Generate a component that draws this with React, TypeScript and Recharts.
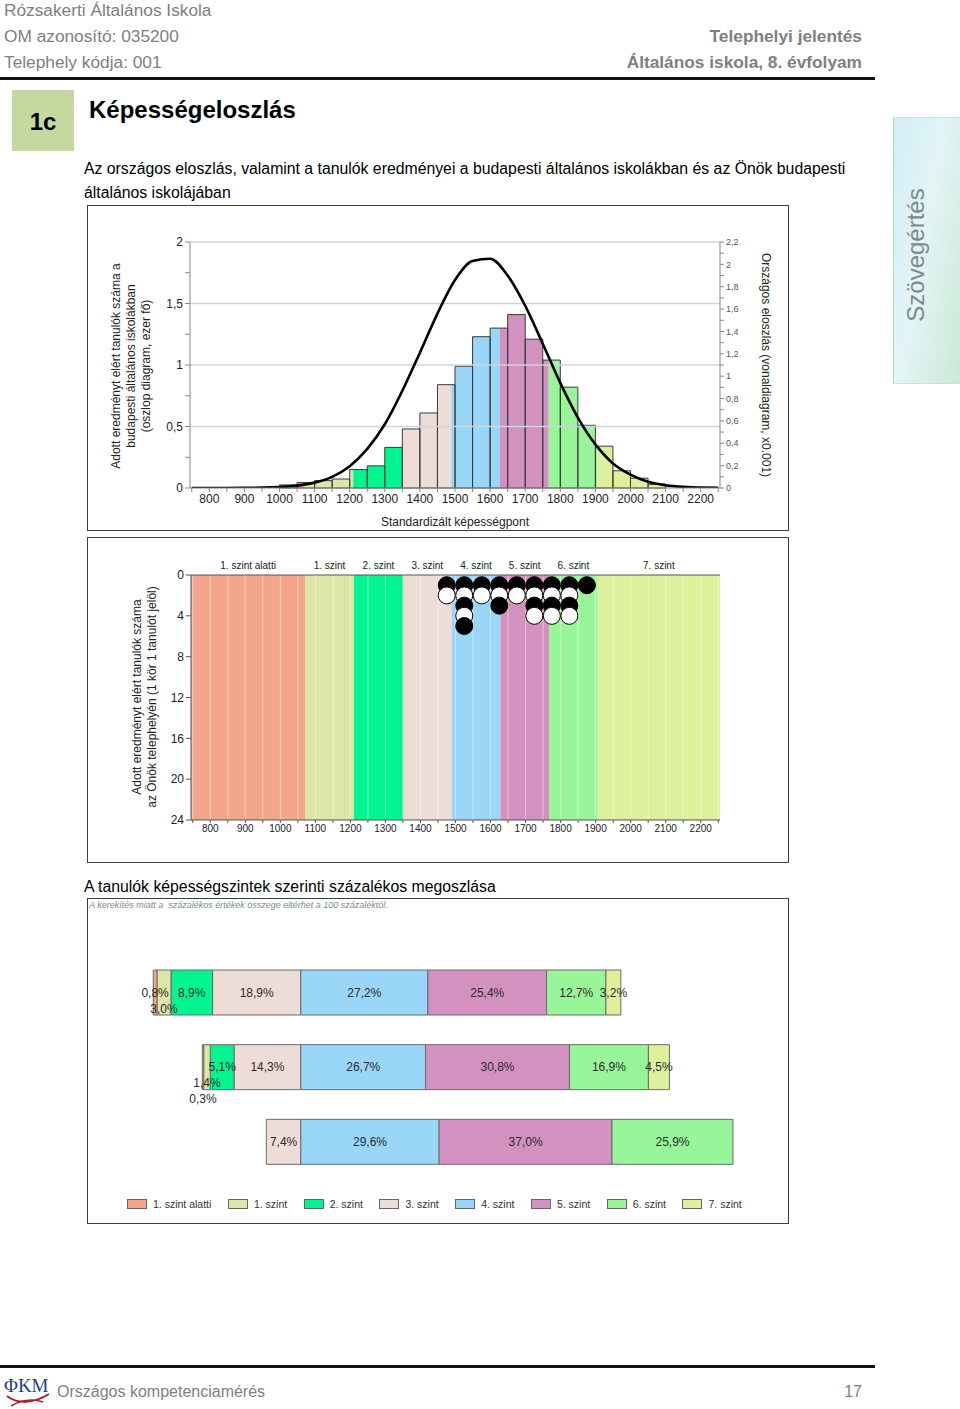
import React from "react";
import {
  ComposedChart,
  BarChart,
  Bar,
  Line,
  Scatter,
  XAxis,
  YAxis,
  ReferenceArea,
  ReferenceLine,
  LabelList,
} from "recharts";

const FONT = '"Liberation Sans", Arial, Helvetica, sans-serif';

// capability levels (8th grade reading)
const LEVEL_NAMES = ["1. szint alatti", "1. szint", "2. szint", "3. szint", "4. szint", "5. szint", "6. szint", "7. szint"];
const LEVEL_COLORS = ["#f3a68c", "#dee6a5", "#00f591", "#eedcd6", "#99d6f8", "#d291be", "#99f599", "#def09b"];
const LEVEL_CUTS = [1071, 1210, 1350, 1489, 1628, 1767, 1906];
const X_MIN = 745;
const X_MAX = 2255;

// budapest schools, 50 point bins (thousand students)
const BIN_STARTS = [1000, 1050, 1100, 1150, 1200, 1250, 1300, 1350, 1400, 1450, 1500, 1550, 1600, 1650, 1700, 1750, 1800, 1850, 1900, 1950, 2000, 2050];
const BUDAPEST_COUNTS = [0.025, 0.045, 0.06, 0.073, 0.15, 0.18, 0.33, 0.48, 0.61, 0.84, 0.99, 1.23, 1.3, 1.41, 1.21, 1.04, 0.82, 0.51, 0.34, 0.14, 0.08, 0.03];

// national distribution curve (x0.001)
const CURVE_X = [750, 800, 850, 900, 950, 1000, 1050, 1100, 1150, 1200, 1250, 1300, 1350, 1400, 1450, 1500, 1550, 1600, 1650, 1700, 1750, 1800, 1850, 1900, 1950, 2000, 2050, 2100, 2150, 2200, 2250];
const CURVE_Y = [0, 0.0001, 0.0003, 0.001, 0.003, 0.009, 0.021, 0.048, 0.1, 0.195, 0.35, 0.57, 0.87, 1.21, 1.56, 1.86, 2.03, 2.05, 1.9, 1.63, 1.29, 0.94, 0.63, 0.39, 0.22, 0.12, 0.056, 0.025, 0.01, 0.004, 0.001];

// students of this site (1 circle = 1 student)
const DOT_BINS = [1475, 1525, 1575, 1625, 1675, 1725, 1775, 1825, 1875];
const DOT_COUNTS = [2, 5, 2, 3, 2, 4, 4, 4, 1];

// percentage by level
const ROW_NAMES = ["Országosan", "A budapesti általános iskolákban", "Az Önök telephelyén"];
const PCT_NATIONAL = [0.8, 3.0, 8.9, 18.9, 27.2, 25.4, 12.7, 3.2];
const PCT_BUDAPEST = [0.3, 1.4, 5.1, 14.3, 26.7, 30.8, 16.9, 4.5];
const PCT_SITE = [0, 0, 0, 7.4, 29.6, 37.0, 25.9, 0];

const X_TICKS = Array.from({ length: 31 }, (_, i) => 750 + i * 50);
const LEFT_TICKS = [0, 0.25, 0.5, 0.75, 1, 1.25, 1.5, 1.75, 2];
const RIGHT_TICKS = Array.from({ length: 23 }, (_, i) => i / 10);
const COUNT_TICKS = [0, 4, 8, 12, 16, 20, 24];

const fmt = (v: number) => String(v).replace(".", ",");
const fmt1 = (v: number) => v.toFixed(1).replace(".", ",");
const levelOf = (v: number) => LEVEL_CUTS.filter((c) => v >= c).length;
const xLabel = (v: number) => (v % 100 === 0 && v >= 800 && v <= 2200 ? String(v) : "");

function Rotated({ x, y, angle, size = 12, color = "#222", children }: any) {
  return (
    <div
      style={{
        position: "absolute",
        left: x,
        top: y,
        transform: `translate(-50%, -50%) rotate(${angle}deg)`,
        whiteSpace: "nowrap",
        fontSize: size,
        lineHeight: `${size + 3}px`,
        color,
        textAlign: "center",
      }}
    >
      {children}
    </div>
  );
}

function DistributionChart() {
  const curveData = CURVE_X.map((x, i) => ({ x, y: CURVE_Y[i] }));
  const binPoints = BIN_STARTS.map((s, i) => ({ x: s + 25, h: BUDAPEST_COUNTS[i] }));

  const pieces: { x1: number; x2: number; top: number; color: string }[] = [];
  BIN_STARTS.forEach((start, i) => {
    const end = start + 50;
    const cuts = [start, ...LEVEL_CUTS.filter((c) => c > start && c < end), end];
    for (let j = 0; j < cuts.length - 1; j++) {
      const mid = (cuts[j] + cuts[j + 1]) / 2;
      pieces.push({ x1: cuts[j], x2: cuts[j + 1], top: BUDAPEST_COUNTS[i], color: LEVEL_COLORS[levelOf(mid)] });
    }
  });

  return (
    <ComposedChart width={700} height={324} data={curveData} margin={{ top: 36, right: 0, bottom: 0, left: 0 }}>
      <XAxis
        dataKey="x"
        type="number"
        domain={[X_MIN, X_MAX]}
        allowDataOverflow
        ticks={X_TICKS}
        interval={0}
        tickFormatter={xLabel}
        height={42}
        tickSize={4}
        stroke="#888"
        tick={{ fontSize: 12, fill: "#222" }}
        label={{ value: "Standardizált képességpont", position: "insideBottom", offset: 4, fontSize: 12, fill: "#222" }}
      />
      <YAxis
        dataKey="h"
        type="number"
        domain={[0, 2]}
        allowDataOverflow
        ticks={LEFT_TICKS}
        interval={0}
        tickFormatter={(v: number) => (Math.round(v * 4) % 2 === 0 ? fmt(v) : "")}
        width={102}
        tickSize={5}
        stroke="#888"
        tick={{ fontSize: 12, fill: "#222" }}
      />
      <YAxis
        yAxisId="right"
        orientation="right"
        type="number"
        domain={[0, 2.2]}
        allowDataOverflow
        ticks={RIGHT_TICKS}
        interval={0}
        tickFormatter={(v: number) => (Math.round(v * 10) % 2 === 0 ? fmt(v) : "")}
        width={68}
        tickSize={4}
        stroke="#888"
        tick={{ fontSize: 9, fill: "#555" }}
      />
      {[0.5, 1, 1.5, 2].map((v) => (
        <ReferenceLine key={`g${v}`} y={v} stroke="#cdd5dc" strokeWidth={1.3} ifOverflow="visible" />
      ))}
      {pieces.map((p, i) => (
        <ReferenceArea
          key={`p${i}`}
          x1={p.x1}
          x2={p.x2}
          y1={0}
          y2={p.top}
          fill={p.color}
          fillOpacity={1}
          stroke="none"
          ifOverflow="visible"
        />
      ))}
      {BIN_STARTS.map((start, i) => (
        <ReferenceArea
          key={`o${i}`}
          x1={start}
          x2={start + 50}
          y1={0}
          y2={BUDAPEST_COUNTS[i]}
          fill="none"
          fillOpacity={0}
          stroke="#3a3a3a"
          strokeWidth={1}
          ifOverflow="visible"
        />
      ))}
      {/* anchors the bar axis to its bin data */}
      <Scatter data={binPoints} dataKey="h" shape={() => <g />} isAnimationActive={false} />
      <Line
        yAxisId="right"
        dataKey="y"
        type="monotone"
        stroke="#000"
        strokeWidth={2.6}
        dot={false}
        activeDot={false}
        isAnimationActive={false}
      />
    </ComposedChart>
  );
}

function StudentDots(props: any) {
  const { cx, cy, payload } = props;
  if (cx == null || cy == null) return null;
  return <circle cx={cx} cy={cy} r={8.5} fill={payload.k % 2 === 1 ? "#000" : "#fff"} stroke="#000" strokeWidth={1} />;
}

function SiteChart() {
  const dots: { x: number; y: number; k: number }[] = [];
  DOT_BINS.forEach((x, i) => {
    for (let k = 1; k <= DOT_COUNTS[i]; k++) dots.push({ x, y: k, k });
  });
  const bounds = [X_MIN, ...LEVEL_CUTS, X_MAX];

  return (
    <ComposedChart width={700} height={324} margin={{ top: 36, right: 68, bottom: 0, left: 0 }}>
      <XAxis
        xAxisId="bottom"
        dataKey="x"
        type="number"
        domain={[X_MIN, X_MAX]}
        allowDataOverflow
        ticks={X_TICKS}
        interval={0}
        tickFormatter={xLabel}
        height={42}
        tickSize={3}
        stroke="#555"
        tick={{ fontSize: 10, fill: "#222" }}
      />
      <XAxis
        xAxisId="top"
        orientation="top"
        type="number"
        domain={[X_MIN, X_MAX]}
        allowDataOverflow
        ticks={X_TICKS}
        interval={0}
        tickFormatter={() => ""}
        height={1}
        tickSize={3}
        stroke="#555"
      />
      <YAxis
        yAxisId="n"
        dataKey="y"
        type="number"
        domain={[0, 24]}
        reversed
        ticks={COUNT_TICKS}
        interval={0}
        width={103}
        tickSize={5}
        stroke="#555"
        tick={{ fontSize: 12, fill: "#222" }}
      />
      {LEVEL_NAMES.map((name, i) => (
        <ReferenceArea
          key={name}
          xAxisId="bottom"
          yAxisId="n"
          x1={bounds[i]}
          x2={bounds[i + 1]}
          y1={0}
          y2={24}
          fill={LEVEL_COLORS[i]}
          fillOpacity={1}
          stroke="none"
          label={{ value: name, position: "top", offset: 6, fontSize: 10, fill: "#222" }}
        />
      ))}
      {X_TICKS.filter((v) => v > X_MIN && v < X_MAX).map((v) => (
        <ReferenceLine key={`v${v}`} xAxisId="bottom" yAxisId="n" x={v} stroke="rgba(255,255,255,0.45)" strokeWidth={1} />
      ))}
      <Scatter
        xAxisId="bottom"
        yAxisId="n"
        data={dots}
        dataKey="y"
        shape={StudentDots}
        isAnimationActive={false}
      />
    </ComposedChart>
  );
}

const LABEL_DROP: Record<string, number> = { "0-1": 16, "1-1": 16, "1-0": 32 };
const STACK_ORDER = [3, 2, 1, 0, 4, 5, 6, 7];

function RowTitle(props: any) {
  const { y, payload } = props;
  return (
    <text x={349} y={y - 29} textAnchor="middle" fontSize={12} fill="#222" fontFamily={FONT}>
      {payload.value}
    </text>
  );
}

function ShareChart() {
  const tables = [PCT_NATIONAL, PCT_BUDAPEST, PCT_SITE];
  const rows = ROW_NAMES.map((name, r) => {
    const row: Record<string, any> = { name };
    tables[r].forEach((v, i) => {
      row[`l${i}`] = i < 4 ? -v : v;
    });
    return row;
  });

  return (
    <BarChart
      layout="vertical"
      width={700}
      height={324}
      data={rows}
      stackOffset="sign"
      barSize={45}
      margin={{ top: 56, right: 20, bottom: 44, left: 26 }}
    >
      <XAxis type="number" domain={[-40, 100]} hide />
      <YAxis type="category" dataKey="name" width={0} axisLine={false} tickLine={false} tick={(p: any) => <RowTitle {...p} />} />
      {STACK_ORDER.map((lvl) => (
        <Bar
          key={lvl}
          dataKey={`l${lvl}`}
          stackId="s"
          fill={LEVEL_COLORS[lvl]}
          stroke="#6b6b6b"
          strokeWidth={1}
          isAnimationActive={false}
        >
          <LabelList
            dataKey={`l${lvl}`}
            content={(p: any) => {
              const vb = p.viewBox || p;
              const v = Math.abs(Number(p.value));
              if (!v) return null;
              const cx = vb.x + vb.width / 2;
              const cy = vb.y + vb.height / 2 + (LABEL_DROP[`${p.index}-${lvl}`] || 0);
              return (
                <text x={cx} y={cy + 4} textAnchor="middle" fontSize={12} fill="#2b2b2b" fontFamily={FONT}>
                  {fmt1(v)}%
                </text>
              );
            }}
          />
        </Bar>
      ))}
    </BarChart>
  );
}

function ShareLegend() {
  return (
    <div style={{ position: "absolute", left: 127, top: 1198, display: "flex", gap: 16.5, fontSize: 10.5, color: "#333" }}>
      {LEVEL_NAMES.map((name, i) => (
        <div key={name} style={{ display: "flex", alignItems: "center", gap: 6, lineHeight: "12px" }}>
          <span style={{ width: 18, height: 8, background: LEVEL_COLORS[i], border: "1px solid #666", display: "inline-block" }} />
          <span>{name}</span>
        </div>
      ))}
    </div>
  );
}

function Frame({ left, top, width, height }: any) {
  return (
    <div
      style={{
        position: "absolute",
        left,
        top,
        width,
        height,
        boxSizing: "border-box",
        border: "1px solid #3c3c3c",
      }}
    />
  );
}

export default function App() {
  const grey = "#7f7f7f";
  return (
    <div
      style={{
        position: "absolute",
        left: 0,
        top: 0,
        width: 960,
        height: 1409,
        background: "#fff",
        fontFamily: FONT,
        overflow: "hidden",
        color: "#000",
      }}
    >
      {/* header */}
      <div style={{ position: "absolute", left: 4, top: 0, fontSize: 17.3, lineHeight: "20px", color: grey }}>Rózsakerti Általános Iskola</div>
      <div style={{ position: "absolute", left: 4, top: 26, fontSize: 17.3, lineHeight: "20px", color: grey }}>OM azonosító: 035200</div>
      <div style={{ position: "absolute", left: 4, top: 52, fontSize: 17.3, lineHeight: "20px", color: grey }}>Telephely kódja: 001</div>
      <div style={{ position: "absolute", right: 98, top: 26, fontSize: 17.3, lineHeight: "20px", color: grey, fontWeight: "bold" }}>Telephelyi jelentés</div>
      <div style={{ position: "absolute", right: 98, top: 52, fontSize: 17.3, lineHeight: "20px", color: grey, fontWeight: "bold" }}>
        Általános iskola, 8. évfolyam
      </div>
      <div style={{ position: "absolute", left: 0, top: 77, width: 875, height: 3, background: "#111" }} />

      <div
        style={{
          position: "absolute",
          left: 12,
          top: 90,
          width: 62,
          height: 61,
          background: "#c5d89f",
          display: "flex",
          alignItems: "center",
          justifyContent: "center",
          fontSize: 24,
          fontWeight: "bold",
          paddingTop: 2,
          boxSizing: "border-box",
        }}
      >
        1c
      </div>
      <div style={{ position: "absolute", left: 89, top: 96, fontSize: 24, lineHeight: "28px", fontWeight: "bold" }}>Képességeloszlás</div>

      <div style={{ position: "absolute", left: 84, top: 157, fontSize: 15.8, lineHeight: "24px" }}>
        Az országos eloszlás, valamint a tanulók eredményei a budapesti általános iskolákban és az Önök budapesti
        <br />
        általános iskolájában
      </div>

      {/* side tab */}
      <div
        style={{
          position: "absolute",
          left: 893,
          top: 117,
          width: 67,
          height: 267,
          background: "linear-gradient(100deg, #cfeef6 0%, #e3f4f6 45%, #cbe9d6 100%)",
          borderLeft: "1px solid #b9dccb",
          borderTop: "1px solid #c8e4d8",
          borderBottom: "1px solid #c8e4d8",
          boxSizing: "border-box",
        }}
      />
      <Rotated x={915} y={255} angle={-90} size={24} color="#7d8b8e">
        Szövegértés
      </Rotated>

      {/* chart 1 */}
      <Frame left={87} top={205} width={702} height={326} />
      <div style={{ position: "absolute", left: 88, top: 206 }}>
        <DistributionChart />
      </div>
      <Rotated x={131} y={366} angle={-90} size={12}>
        Adott eredményt elért tanulók száma a
        <br />
        budapesti általános iskolákban
        <br />
        (oszlop diagram, ezer fő)
      </Rotated>
      <Rotated x={765} y={365} angle={90} size={12}>
        Országos eloszlás (vonaldiagram, x0.001)
      </Rotated>

      {/* chart 2 */}
      <Frame left={87} top={537} width={702} height={326} />
      <div style={{ position: "absolute", left: 88, top: 538 }}>
        <SiteChart />
      </div>
      <Rotated x={145} y={697} angle={-90} size={12}>
        Adott eredményt elért tanulók száma
        <br />
        az Önök telephelyén (1 kör 1 tanulót jelöl)
      </Rotated>

      {/* chart 3 */}
      <div style={{ position: "absolute", left: 84, top: 877, fontSize: 15.8, lineHeight: "20px" }}>
        A tanulók képességszintek szerinti százalékos megoszlása
      </div>
      <Frame left={87} top={898} width={702} height={326} />
      <div style={{ position: "absolute", left: 89, top: 900, fontSize: 9, fontStyle: "italic", color: "#7b8b99", lineHeight: "11px" }}>
        A kerekítés miatt a&nbsp; százalékos értékek összege eltérhet a 100 százaléktól.
      </div>
      <div style={{ position: "absolute", left: 88, top: 899 }}>
        <ShareChart />
      </div>
      <ShareLegend />

      {/* footer */}
      <div style={{ position: "absolute", left: 0, top: 1365, width: 875, height: 3, background: "#111" }} />
      <svg style={{ position: "absolute", left: 3, top: 1370 }} width={50} height={38}>
        <text x={1} y={22} fontSize={19} fontFamily="'Liberation Serif', serif" fill="#1f3d8c">
          ΦKM
        </text>
        <path d="M4 26 C 14 34, 30 34, 46 24" stroke="#a3232a" strokeWidth={2} fill="none" />
        <path d="M8 36 C 18 30, 28 28, 40 32" stroke="#a3232a" strokeWidth={1.5} fill="none" />
      </svg>
      <div style={{ position: "absolute", left: 57, top: 1382, fontSize: 16, lineHeight: "20px", color: grey }}>Országos kompetenciamérés</div>
      <div style={{ position: "absolute", right: 98, top: 1382, fontSize: 16, lineHeight: "20px", color: grey }}>17</div>
    </div>
  );
}
